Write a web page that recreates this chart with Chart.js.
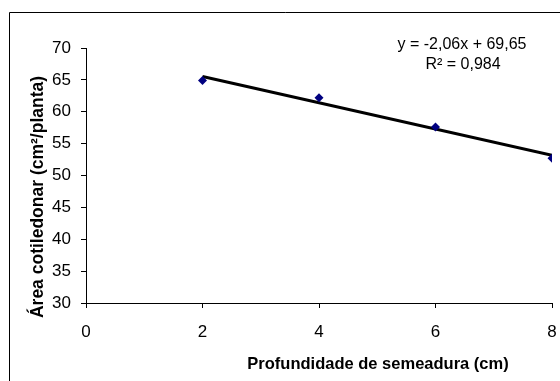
<!DOCTYPE html>
<html>
<head>
<meta charset="utf-8">
<script src="https://cdn.jsdelivr.net/npm/chart.js@4/dist/chart.umd.min.js"></script>
<style>
  html, body { margin: 0; padding: 0; background: #fff; }
  #wrap { width: 560px; height: 381px; position: relative; }
</style>
</head>
<body>
<div id="wrap"><canvas id="c" width="560" height="381"></canvas></div>
<script>
// depth (cm) and cotyledon area
const depths = [2, 4, 6, 8];
const areas = [64.9, 62.2, 57.6, 52.7];
// trendline ends (y = -2,06x + 69,65)
const trendX = [2, 8];
const trendY = [65.53, 53.17];
const xTicks = [0, 2, 4, 6, 8];
const yTicks = [30, 35, 40, 45, 50, 55, 60, 65, 70];
const equationText = 'y = -2,06x + 69,65';
const r2Text = 'R² = 0,984';
const xTitle = 'Profundidade de semeadura (cm)';
const yTitle = 'Área cotiledonar (cm²/planta)';

const fontName = '"Liberation Sans", Arial, sans-serif';

// outer frame, titles and equation
const decorPlugin = {
    id: 'decor',
    beforeDraw(chart) {
        const ctx = chart.ctx;
        ctx.save();
        ctx.strokeStyle = '#000';
        ctx.lineWidth = 1;
        ctx.beginPath();
        ctx.moveTo(9.5, 400);
        ctx.lineTo(9.5, 12.5);
        ctx.lineTo(600, 12.5);
        ctx.stroke();
        ctx.restore();
    },
    afterDraw(chart) {
        const ctx = chart.ctx;
        ctx.save();
        ctx.fillStyle = '#000';
        ctx.textAlign = 'center';
        ctx.textBaseline = 'middle';
        ctx.font = '16px ' + fontName;
        ctx.fillText(equationText, 462, 45);
        ctx.fillText(r2Text, 463, 65);
        ctx.font = 'bold 16.5px ' + fontName;
        ctx.fillText(xTitle, 378, 364);
        ctx.translate(38, 197);
        ctx.rotate(-Math.PI / 2);
        ctx.font = 'bold 17.5px ' + fontName;
        ctx.fillText(yTitle, 0, 0);
        ctx.restore();
    }
};

new Chart(document.getElementById('c'), {
    type: 'scatter',
    data: {
        datasets: [{
            data: depths.map((x, i) => ({ x: x, y: areas[i] })),
            backgroundColor: '#000080',
            borderColor: '#000080',
            pointStyle: 'rectRot',
            pointRadius: 4.5,
            borderWidth: 0,
            order: 1
        }, {
            data: trendX.map((x, i) => ({ x: x, y: trendY[i] })),
            showLine: true,
            borderColor: '#000',
            borderWidth: 3,
            pointRadius: 0,
            order: 2
        }]
    },
    options: {
        responsive: false,
        animation: false,
        layout: { padding: { top: 48, right: 8, left: 0, bottom: 0 } },
        plugins: { legend: { display: false }, tooltip: { enabled: false } },
        scales: {
            x: {
                type: 'linear',
                min: 0, max: 8,
                afterBuildTicks: s => { s.ticks = xTicks.map(v => ({ value: v })); },
                afterFit: s => { s.height = 78; s.paddingRight = 0; s.paddingLeft = 0; },
                border: { color: '#000', width: 1 },
                grid: { drawOnChartArea: false, tickLength: 5, color: '#000' },
                ticks: { color: '#000', padding: 14, font: { family: fontName, size: 17 } }
            },
            y: {
                min: 30, max: 70,
                afterBuildTicks: s => { s.ticks = yTicks.map(v => ({ value: v })); },
                afterFit: s => { s.width = 86; s.paddingTop = 0; s.paddingBottom = 0; },
                border: { color: '#000', width: 1 },
                grid: { drawOnChartArea: false, tickLength: 5, color: '#000' },
                ticks: { color: '#000', padding: 10, font: { family: fontName, size: 17 } }
            }
        }
    },
    plugins: [decorPlugin]
});
</script>
</body>
</html>
